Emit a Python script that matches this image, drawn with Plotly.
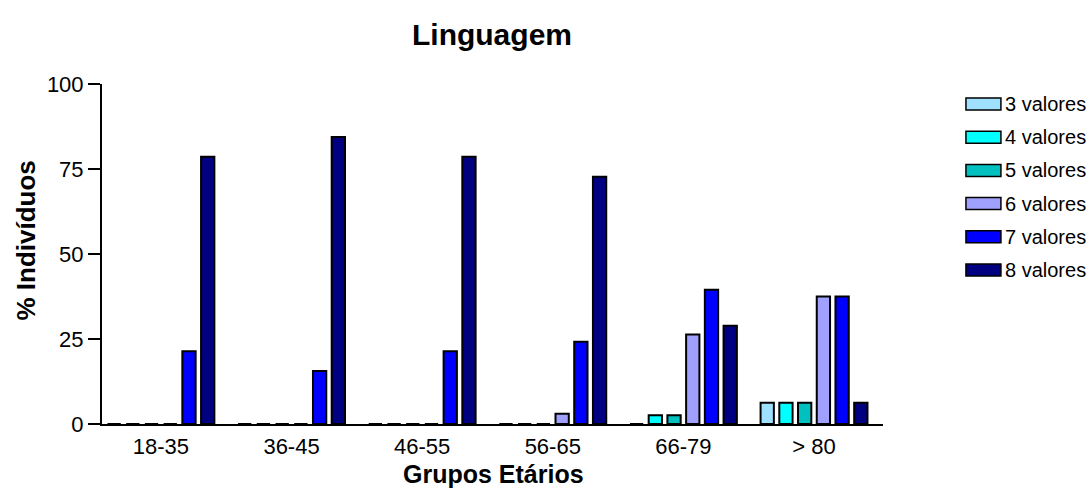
import plotly.graph_objects as go

# Age groups and share of individuals (%) per number of correct values
grupos = ["18-35", "36-45", "46-55", "56-65", "66-79", "> 80"]
series_names = ["3 valores", "4 valores", "5 valores", "6 valores", "7 valores", "8 valores"]

v3 = [0, 0, 0, 0, 0, 6.25]
v4 = [0, 0, 0, 0, 2.6, 6.25]
v5 = [0, 0, 0, 0, 2.6, 6.25]
v6 = [0, 0, 0, 3.0, 26.3, 37.5]
v7 = [21.4, 15.6, 21.4, 24.2, 39.5, 37.5]
v8 = [78.6, 84.4, 78.6, 72.7, 28.9, 6.25]

colors = ["#A0E0FF", "#00FFFF", "#00C0C0", "#A0A0FF", "#0000FF", "#000080"]

W, H = 1090, 488
L, R, T, B = 101.5, 883, 84, 424  # plot area in pixels

fig = go.Figure()
for name, vals, col in zip(series_names, [v3, v4, v5, v6, v7, v8], colors):
    fig.add_trace(go.Bar(
        x=grupos, y=vals, name=name, showlegend=False,
        marker=dict(color=col, line=dict(color="black", width=2)),
    ))

font = "Arial, Liberation Sans, sans-serif"


def px_x(p):
    return (p - L) / (R - L)


def px_y(p):
    return (B - p) / (B - T)


# Legend drawn as swatches + labels to the right of the plot
shapes = []
annotations = []
for i, (name, col) in enumerate(zip(series_names, colors)):
    cy = 104 + 33.2 * i
    shapes.append(dict(type="rect", xref="paper", yref="paper",
                       x0=px_x(966), x1=px_x(1001), y0=px_y(cy + 6), y1=px_y(cy - 6),
                       fillcolor=col, line=dict(color="black", width=1.5)))
    annotations.append(dict(xref="paper", yref="paper",
                            x=px_x(1003), y=px_y(cy),
                            text=name, showarrow=False, xanchor="left", yanchor="middle",
                            font=dict(family=font, size=20, color="black")))

# Axis titles
annotations.append(dict(xref="paper", yref="paper", x=px_x(25), y=px_y(241),
                        text="<b>% Indivíduos</b>", textangle=-90, showarrow=False,
                        xanchor="center", yanchor="middle",
                        font=dict(family=font, size=26, color="black")))
annotations.append(dict(xref="paper", yref="paper", x=px_x(493), y=px_y(458),
                        text="<b>Grupos Etários</b>", showarrow=False,
                        xanchor="center", yanchor="top",
                        font=dict(family=font, size=25, color="black")))

fig.update_layout(
    width=W, height=H,
    margin=dict(l=L, r=W - R, t=T, b=H - B, pad=0),
    paper_bgcolor="white", plot_bgcolor="white",
    barmode="group", bargap=0.14, bargroupgap=0.29,
    title=dict(text="<b>Linguagem</b>", x=492 / W, xanchor="center",
               y=1 - 34 / H, yanchor="middle",
               font=dict(family=font, size=30, color="black")),
    xaxis=dict(range=[-0.451, 5.528], showline=True, linecolor="black", linewidth=2,
               ticks="outside", ticklen=2, tickcolor="rgba(0,0,0,0)",
               showgrid=False, zeroline=False, automargin=False,
               tickfont=dict(family=font, size=22, color="black")),
    yaxis=dict(range=[0, 100], tickvals=[0, 25, 50, 75, 100], showline=True,
               linecolor="black", linewidth=2, ticks="outside", ticklen=12,
               tickwidth=1.5, tickcolor="black", showgrid=False, zeroline=False,
               automargin=False,
               tickfont=dict(family=font, size=22, color="black")),
    shapes=shapes, annotations=annotations,
)

fig.write_html("out.html")
